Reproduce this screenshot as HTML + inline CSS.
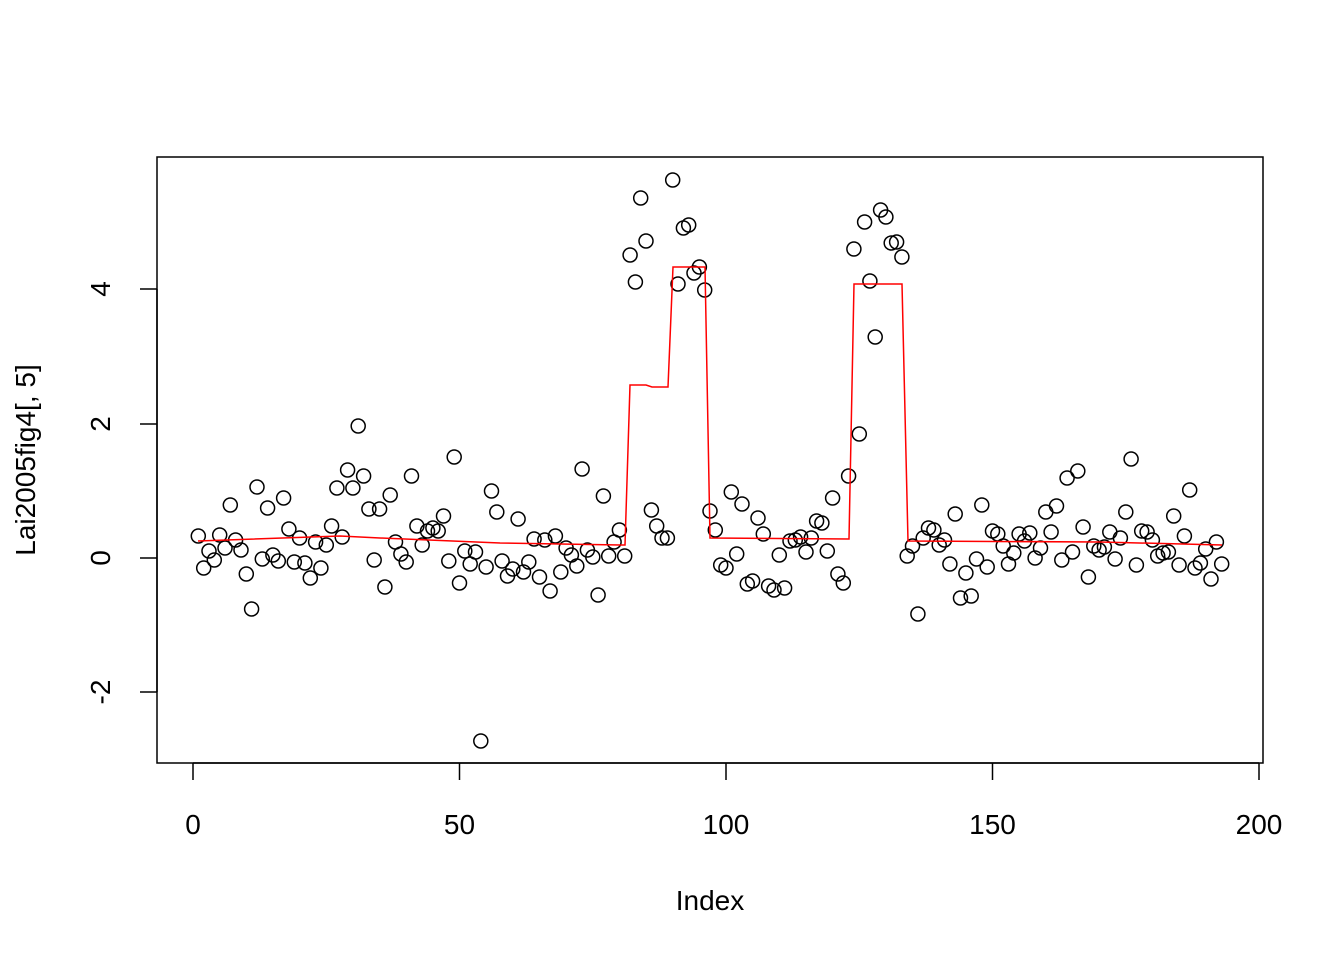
<!DOCTYPE html>
<html><head><meta charset="utf-8"><style>
html,body{margin:0;padding:0;background:#fff;}
svg text{font-family:"Liberation Sans",Arial,sans-serif;font-size:28px;fill:#000;}
</style></head><body>
<svg id="s" width="1344" height="960" viewBox="0 0 1344 960" xmlns="http://www.w3.org/2000/svg">
<rect x="157" y="157" width="1106" height="606" fill="none" stroke="#000" stroke-width="1.5"/>
<g stroke="#000" stroke-width="1.5">
<line x1="193" y1="763" x2="1259" y2="763"/>
<line x1="193" y1="763" x2="193" y2="780"/>
<line x1="459.5" y1="763" x2="459.5" y2="780"/>
<line x1="726" y1="763" x2="726" y2="780"/>
<line x1="992.5" y1="763" x2="992.5" y2="780"/>
<line x1="1259" y1="763" x2="1259" y2="780"/>
<line x1="157" y1="289" x2="157" y2="692"/>
<line x1="140" y1="289" x2="157" y2="289"/>
<line x1="140" y1="424" x2="157" y2="424"/>
<line x1="140" y1="558" x2="157" y2="558"/>
<line x1="140" y1="692" x2="157" y2="692"/>
</g>
<g text-anchor="middle">
<text x="193" y="834">0</text>
<text x="459.5" y="834">50</text>
<text x="726" y="834">100</text>
<text x="992.5" y="834">150</text>
<text x="1259" y="834">200</text>
<text x="710" y="910">Index</text>
<text transform="translate(110,289) rotate(-90)">4</text>
<text transform="translate(110,424) rotate(-90)">2</text>
<text transform="translate(110,558) rotate(-90)">0</text>
<text transform="translate(110,692) rotate(-90)">-2</text>
<text transform="translate(35,460) rotate(-90)">Lai2005fig4[, 5]</text>
</g>
<g id="pts" fill="none" stroke="#000" stroke-width="1.5"></g>
<path d="M198 541 L340 536 L380 538 L500 543 L620 545 L625 545 L630 385 L646 385 L652 387 L668 387 L673 267 L705 267 L710 538 L849 539 L854 284 L902 284 L908 541 L1100 542 L1222 545" fill="none" stroke="#ff0000" stroke-width="1.5"/>
</svg>
<script>
var y=[536,568,551,560,535,548,505,540,550,574,609,487,559,508,555,561,498,529,562,538,563,578,542,568,545,526,488,537,470,488,426,476,509,560,509,587,495,542,554,562,476,526,545,531,528,531,516,561,457,583,551,564,552,741,567,491,512,561,576,569,519,572,562,539,577,540,591,536,572,548,555,566,469,550,557,595,496,556,542,530,556,255,282,198,241,510,526,538,538,180,284,228,225,273,267,290,511,530,565,568,492,554,504,584,581,518,534,586,590,555,588,541,540,537,552,538,521,523,551,498,574,583,476,249,434,222,281,337,210,217,243,242,257,556,546,614,538,528,530,545,540,564,514,598,573,596,559,505,567,531,534,546,564,553,534,541,533,558,548,512,532,506,560,478,552,471,527,577,546,550,547,532,559,538,512,459,565,531,532,540,556,553,552,516,565,536,490,568,563,549,579,542,564];
var g=document.getElementById('pts'),h='';
for(var i=0;i<y.length;i++){var x=193+5.33*(i+1);h+='<circle cx="'+x.toFixed(1)+'" cy="'+y[i]+'" r="7"/>';}
g.innerHTML=h;
</script>
</body></html>
